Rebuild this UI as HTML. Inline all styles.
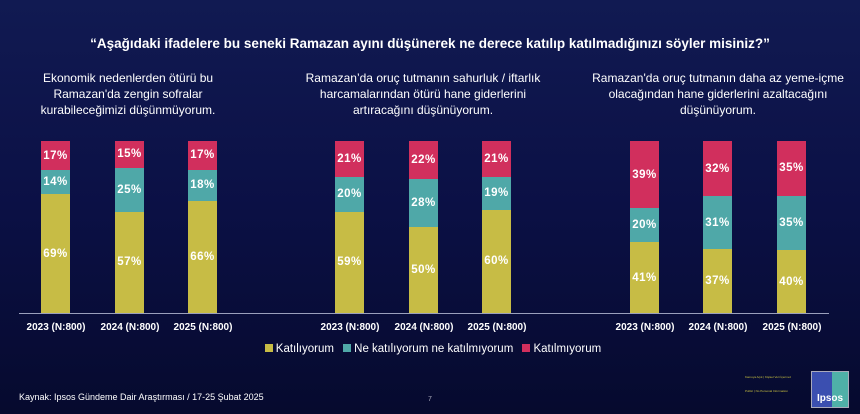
<!DOCTYPE html><html><head><meta charset="utf-8"><style>
body{margin:0;width:860px;height:414px;overflow:hidden;background:linear-gradient(180deg,#111a52 0%,#0b1045 50%,#060a2e 100%);font-family:"Liberation Sans",sans-serif;color:#fff;position:relative}
.a{position:absolute}
.t{top:36px;left:0;width:860px;text-align:center;font-weight:bold;font-size:13.5px}
.s{top:70px;width:270px;text-align:center;font-size:12px;line-height:16px}
.bar{position:absolute;top:141px;height:172px;width:29px;display:flex;flex-direction:column}
.bar div{display:flex;align-items:center;justify-content:center;font-weight:bold;font-size:11.5px;letter-spacing:0.5px}
.p{background:#d12f5d}.c{background:#4fa8a8}.y{background:#c7bc45}
.yl{top:322px;width:80px;text-align:center;font-weight:bold;font-size:10px}
.base{top:313px;left:19px;width:810px;height:1px;background:#9aa0bc}
.lg{top:343px;left:0;width:860px;text-align:center;font-size:11.5px}
.sq{display:inline-block;width:8px;height:8px;margin:0 3px 0 6px}
</style></head><body>
<div class="a t">“Aşağıdaki ifadelere bu seneki Ramazan ayını düşünerek ne derece katılıp katılmadığınızı söyler misiniz?”</div>
<div class="a s" style="left:-7px">Ekonomik nedenlerden ötürü bu<br>Ramazan'da zengin sofralar<br>kurabileceğimizi düşünmüyorum.</div>
<div class="a s" style="left:288px">Ramazan’da oruç tutmanın sahurluk / iftarlık<br>harcamalarından ötürü hane giderlerini<br>artıracağını düşünüyorum.</div>
<div class="a s" style="left:583px">Ramazan'da oruç tutmanın daha az yeme-içme<br>olacağından hane giderlerini azaltacağını<br>düşünüyorum.</div>
<div class="a base"></div>

<div class="bar" style="left:41px"><div class="p" style="flex:17">17%</div><div class="c" style="flex:14">14%</div><div class="y" style="flex:69">69%</div></div>
<div class="bar" style="left:115px"><div class="p" style="flex:15">15%</div><div class="c" style="flex:25">25%</div><div class="y" style="flex:57">57%</div></div>
<div class="bar" style="left:188px"><div class="p" style="flex:17">17%</div><div class="c" style="flex:18">18%</div><div class="y" style="flex:66">66%</div></div>

<div class="bar" style="left:335px"><div class="p" style="flex:21">21%</div><div class="c" style="flex:20">20%</div><div class="y" style="flex:59">59%</div></div>
<div class="bar" style="left:409px"><div class="p" style="flex:22">22%</div><div class="c" style="flex:28">28%</div><div class="y" style="flex:50">50%</div></div>
<div class="bar" style="left:482px"><div class="p" style="flex:21">21%</div><div class="c" style="flex:19">19%</div><div class="y" style="flex:60">60%</div></div>

<div class="bar" style="left:630px"><div class="p" style="flex:39">39%</div><div class="c" style="flex:20">20%</div><div class="y" style="flex:41">41%</div></div>
<div class="bar" style="left:703px"><div class="p" style="flex:32">32%</div><div class="c" style="flex:31">31%</div><div class="y" style="flex:37">37%</div></div>
<div class="bar" style="left:777px"><div class="p" style="flex:35">35%</div><div class="c" style="flex:35">35%</div><div class="y" style="flex:40">40%</div></div>

<div class="a yl" style="left:16px">2023 (N:800)</div>
<div class="a yl" style="left:90px">2024 (N:800)</div>
<div class="a yl" style="left:163px">2025 (N:800)</div>
<div class="a yl" style="left:310px">2023 (N:800)</div>
<div class="a yl" style="left:384px">2024 (N:800)</div>
<div class="a yl" style="left:457px">2025 (N:800)</div>
<div class="a yl" style="left:605px">2023 (N:800)</div>
<div class="a yl" style="left:678px">2024 (N:800)</div>
<div class="a yl" style="left:752px">2025 (N:800)</div>

<div class="a lg"><span class="sq y"></span>Katılıyorum <span class="sq c"></span>Ne katılıyorum ne katılmıyorum <span class="sq p"></span>Katılmıyorum</div>
<div class="a" style="left:19px;top:392px;font-size:9px">Kaynak: Ipsos Gündeme Dair Araştırması / 17-25 Şubat 2025</div>
<div class="a" style="left:428px;top:396px;font-size:7px;color:#aab">7</div>
<div class="a" style="left:745px;top:375px;font-size:3px;color:#c8c040">Kamuya Açık | Kişisel Veri İçermez</div>
<div class="a" style="left:745px;top:389px;font-size:3px;color:#c8c040">Public | No Personal Information</div>
<div class="a" style="left:811px;top:371px;width:36px;height:35px;background:linear-gradient(90deg,#3b4fb0 55%,#4fb0a8 55%);border:1px solid #aab"><div style="position:absolute;bottom:3px;width:100%;text-align:center;font-weight:bold;font-size:10px">Ipsos</div></div>
</body></html>
